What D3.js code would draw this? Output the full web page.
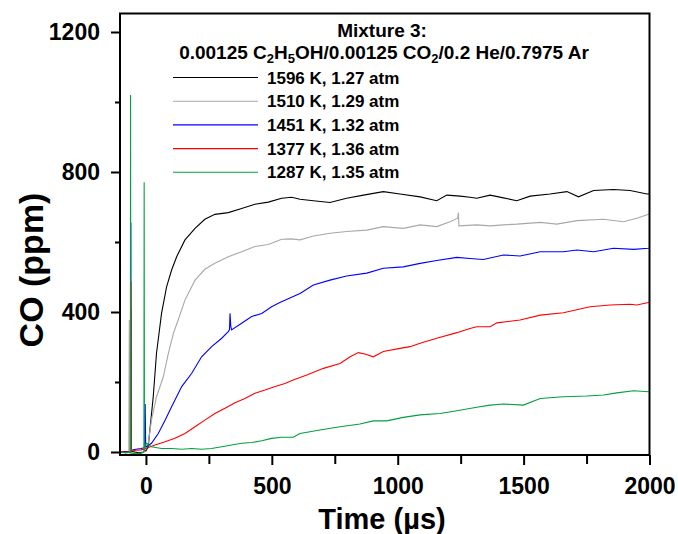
<!DOCTYPE html>
<html lang="en">

<head>
    <meta charset="UTF-8">
    <title>CO time history</title>
    <script src="https://d3js.org/d3.v7.min.js"></script>
    <style>
        body,
        html {
            margin: 0px;
            background: #fff;
            font-family: 'Liberation Sans', Arial, sans-serif;
        }

        text {
            font-weight: bold;
        }
    </style>
</head>

<body>
    <div id="chart"></div>

    <script>
        // time (us), CO (ppm)
        const co1596 = [[-103, 0], [-80, 1], [-62, 0], [-60, 408], [-58, 2], [-30, -2], [-10, 0], [-5, 4], [0, 3], [9, 15], [29, 158], [42, 282], [62, 396], [82, 472], [102, 520], [122, 558], [155, 606], [195, 639], [234, 665], [274, 679], [327, 684], [380, 696], [433, 708], [486, 714], [539, 725], [579, 728], [612, 722], [665, 718], [731, 713], [797, 725], [864, 734], [943, 744], [1009, 737], [1089, 729], [1155, 718], [1195, 734], [1248, 731], [1287, 728], [1314, 725], [1367, 734], [1420, 726], [1473, 718], [1526, 731], [1605, 737], [1672, 744], [1718, 729], [1778, 747], [1857, 750], [1923, 747], [1990, 737], [2000, 738]]
        const co1510 = [[-103, 0], [-80, -2], [-68, 0], [-66, 377], [-64, -3], [-40, -5], [-20, -4], [-8, 0], [-4, 20], [0, 10], [9, 25], [22, 91], [42, 158], [69, 215], [89, 282], [109, 339], [128, 377], [155, 434], [195, 491], [234, 522], [274, 539], [327, 558], [380, 572], [433, 587], [486, 593], [539, 608], [579, 609], [612, 606], [665, 617], [731, 625], [797, 630], [877, 634], [943, 644], [1022, 639], [1089, 649], [1155, 644], [1208, 658], [1238, 668], [1241, 684], [1243, 646], [1314, 649], [1367, 646], [1420, 649], [1473, 651], [1566, 656], [1632, 651], [1712, 661], [1817, 665], [1897, 658], [1950, 668], [1996, 679], [2000, 680]]
        const co1451 = [[-103, 0], [-75, 0], [-61, 0], [-60, 655], [-59, 5], [-40, 8], [-20, 10], [-6, 12], [-3, 137], [-1, 15], [2, 15], [22, 25], [49, 53], [76, 91], [102, 129], [142, 187], [182, 225], [221, 272], [261, 301], [301, 325], [327, 344], [332, 350], [334, 396], [337, 360], [340, 349], [380, 368], [420, 387], [460, 396], [499, 415], [532, 427], [585, 444], [612, 453], [665, 477], [731, 491], [797, 503], [877, 511], [943, 525], [1022, 529], [1089, 539], [1155, 547], [1235, 556], [1287, 553], [1340, 550], [1420, 563], [1486, 560], [1566, 572], [1658, 572], [1712, 577], [1778, 572], [1857, 582], [1937, 579], [1996, 582], [2000, 583]]
        const co1377 = [[-103, 0], [-75, 0], [-60, 0], [-59, 487], [-58, 3], [-40, 5], [-20, 6], [0, 10], [36, 20], [76, 29], [115, 39], [155, 53], [195, 72], [234, 91], [274, 110], [314, 125], [354, 141], [393, 153], [433, 168], [473, 177], [513, 187], [552, 196], [585, 206], [639, 220], [705, 239], [771, 253], [811, 272], [844, 284], [870, 280], [903, 272], [943, 287], [1009, 296], [1049, 301], [1089, 311], [1155, 325], [1235, 341], [1287, 353], [1314, 358], [1367, 358], [1394, 369], [1486, 377], [1566, 391], [1658, 398], [1764, 415], [1844, 420], [1923, 422], [1950, 420], [1996, 427], [2000, 428]]
        const co1287 = [[-103, 0], [-80, -3], [-62, 0], [-61, 1020], [-60, -2], [-40, -5], [-20, -4], [-8, 0], [-7, 771], [-6, 5], [-3, 20], [2, 25], [22, 15], [62, 10], [102, 10], [142, 8], [182, 10], [221, 8], [261, 10], [301, 15], [340, 20], [380, 25], [420, 27], [460, 32], [499, 39], [539, 42], [585, 42], [612, 53], [691, 63], [771, 72], [850, 80], [903, 89], [956, 89], [1022, 99], [1089, 106], [1168, 110], [1235, 118], [1314, 128], [1367, 134], [1420, 137], [1499, 134], [1566, 153], [1658, 158], [1751, 160], [1817, 163], [1870, 169], [1937, 175], [1996, 172], [2000, 172]]

        const seriesData = [co1596, co1510, co1451, co1377, co1287]
        const seriesLabels = ["1596 K, 1.27 atm", "1510 K, 1.29 atm", "1451 K, 1.32 atm", "1377 K, 1.36 atm", "1287 K, 1.35 atm"]
        const seriesColors = ["#000000", "#a8a8a8", "#0000ff", "#ff0000", "#00a040"]

        const xMajor = [0, 500, 1000, 1500, 2000]
        const xMinor = [250, 750, 1250, 1750]
        const yMajor = [0, 400, 800, 1200]
        const yMinor = [200, 600, 1000]

        const width = 678, height = 534
        const plotLeft = 120, plotRight = 649.5, plotTop = 13.5, plotBottom = 455

        const svg = d3.select("#chart")
            .append("svg")
            .attr("width", width)
            .attr("height", height)

        var x = d3.scaleLinear().domain([-103, 2000]).range([plotLeft, plotRight])
        // 0 -> 452px, 1200 -> 32px
        var y = d3.scaleLinear().domain([0, 1200]).range([452, 32])

        svg.append("clipPath").attr("id", "plot")
            .append("rect")
            .attr("x", plotLeft).attr("y", plotTop)
            .attr("width", plotRight - plotLeft).attr("height", plotBottom - plotTop)

        var line = d3.line()
            .x(d => x(d[0]))
            .y(d => y(d[1]))

        svg.append("g")
            .attr("clip-path", "url(#plot)")
            .selectAll("path")
            .data(seriesData)
            .enter()
            .append("path")
            .attr("d", line)
            .style("fill", "none")
            .style("stroke", (d, i) => seriesColors[i])
            .style("stroke-width", 1.1)

        // frame
        svg.append("rect")
            .attr("x", plotLeft).attr("y", plotTop)
            .attr("width", plotRight - plotLeft).attr("height", plotBottom - plotTop)
            .style("fill", "none")
            .style("stroke", "#000")
            .style("stroke-width", 2)

        function styleAxis(g) {
            g.select(".domain").remove()
            g.selectAll("line").style("stroke", "#000").style("stroke-width", 2)
            g.selectAll("text")
                .style("font-family", "'Liberation Sans', Arial, sans-serif")
                .style("font-size", "23px")
                .style("font-weight", "bold")
                .style("fill", "#000")
        }

        svg.append("g")
            .attr("transform", `translate(0,${plotBottom})`)
            .call(d3.axisBottom(x).tickValues(xMajor).tickSize(10).tickPadding(13).tickFormat(d3.format("d")))
            .call(styleAxis)
        svg.append("g")
            .attr("transform", `translate(0,${plotBottom})`)
            .call(d3.axisBottom(x).tickValues(xMinor).tickSize(9).tickFormat(""))
            .call(styleAxis)

        svg.append("g")
            .attr("transform", `translate(${plotLeft},0)`)
            .call(d3.axisLeft(y).tickValues(yMajor).tickSize(9).tickPadding(11).tickFormat(d3.format("d")))
            .call(styleAxis)
        svg.append("g")
            .attr("transform", `translate(${plotLeft},0)`)
            .call(d3.axisLeft(y).tickValues(yMinor).tickSize(5).tickFormat(""))
            .call(styleAxis)

        // axis titles
        svg.append("text")
            .attr("x", 382).attr("y", 529)
            .attr("text-anchor", "middle")
            .style("font-size", "29px")
            .text("Time (\u00b5s)")

        svg.append("text")
            .attr("transform", "translate(43,270) rotate(-90)")
            .attr("text-anchor", "middle")
            .style("font-size", "34px")
            .text("CO (ppm)")

        // legend
        const legend = svg.append("g").style("font-size", "17px")
        legend.append("text")
            .attr("x", 382).attr("y", 37)
            .attr("text-anchor", "middle")
            .style("font-size", "19px")
            .text("Mixture 3:")

        const mix = legend.append("text")
            .attr("x", 384).attr("y", 59)
            .attr("text-anchor", "middle")
            .style("font-size", "19px")
        const parts = [["0.00125 C", 0], ["2", 1], ["H", 0], ["5", 1], ["OH/0.00125 CO", 0], ["2", 1], ["/0.2 He/0.7975 Ar", 0]]
        let sub = 0
        parts.forEach(p => {
            const dy = p[1] === sub ? 0 : (p[1] ? 4 : -4)
            sub = p[1]
            mix.append("tspan")
                .attr("dy", dy)
                .style("font-size", p[1] ? "13px" : "19px")
                .text(p[0])
        })

        seriesLabels.forEach((label, i) => {
            const ly = 77.5 + i * 23.7
            legend.append("line")
                .attr("x1", 173).attr("x2", 258)
                .attr("y1", ly).attr("y2", ly)
                .style("stroke", seriesColors[i])
                .style("stroke-width", 1.1)
            legend.append("text")
                .attr("x", 267).attr("y", ly + 6)
                .text(label)
        })
    </script>
</body>

</html>
